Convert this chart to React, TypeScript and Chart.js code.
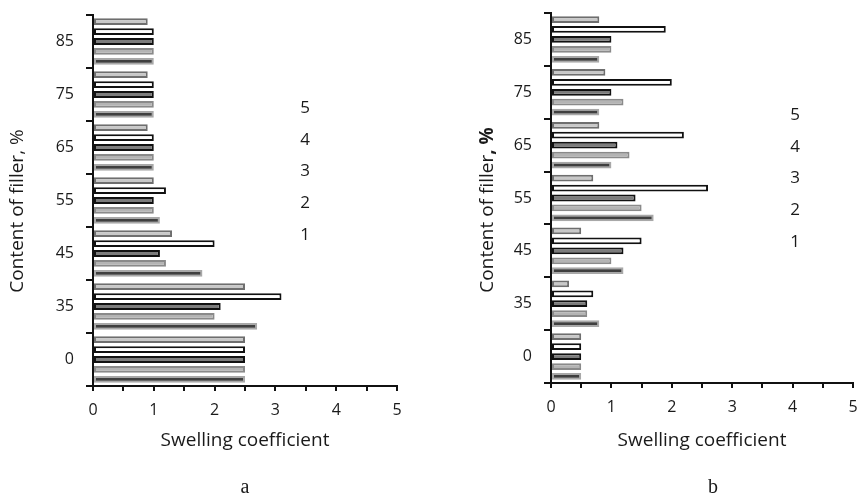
import React, { useEffect, useRef } from 'react';
import { Chart, registerables } from 'chart.js';

Chart.register(...registerables);

// Categories: content of filler, % (bottom to top)
const categories = ['0', '35', '45', '55', '65', '75', '85'];
const seriesNames = ['1', '2', '3', '4', '5'];

// Panel a — swelling coefficient
const a_s1 = [2.5, 2.7, 1.8, 1.1, 1.0, 1.0, 1.0];
const a_s2 = [2.5, 2.0, 1.2, 1.0, 1.0, 1.0, 1.0];
const a_s3 = [2.5, 2.1, 1.1, 1.0, 1.0, 1.0, 1.0];
const a_s4 = [2.5, 3.1, 2.0, 1.2, 1.0, 1.0, 1.0];
const a_s5 = [2.5, 2.5, 1.3, 1.0, 0.9, 0.9, 0.9];

// Panel b — swelling coefficient
const b_s1 = [0.5, 0.8, 1.2, 1.7, 1.0, 0.8, 0.8];
const b_s2 = [0.5, 0.6, 1.0, 1.5, 1.3, 1.2, 1.0];
const b_s3 = [0.5, 0.6, 1.2, 1.4, 1.1, 1.0, 1.0];
const b_s4 = [0.5, 0.7, 1.5, 2.6, 2.2, 2.0, 1.9];
const b_s5 = [0.5, 0.3, 0.5, 0.7, 0.8, 0.9, 0.8];

const xMin = 0;
const xMax = 5;
const xTitle = 'Swelling coefficient';
const yTitleMain = 'Content of filler';
const yTitleSuffix = ', %';

const FONT = '"Open Sans", sans-serif';
const TEXT = '#1a1a1a';
const TICK_SIZE = 16;
const TITLE_SIZE = 19;

const seriesStyles = [
  { bg: '#3f3f3f', border: '#a8a8a8' }, // 1
  { bg: '#b4b4b4', border: '#8a8a8a' }, // 2
  { bg: '#7c7c7c', border: '#111111' }, // 3
  { bg: '#ffffff', border: '#111111' }, // 4
  { bg: '#c8c8c8', border: '#6e6e6e' }, // 5
];

const decorPlugin = {
  id: 'decor',
  afterDraw(chart: any, _args: any, opts: any) {
    const { ctx } = chart;
    ctx.save();
    ctx.fillStyle = TEXT;
    // legend labels (text only), top to bottom 5..1
    ctx.font = `17px ${FONT}`;
    ctx.textAlign = 'center';
    ctx.textBaseline = 'middle';
    chart.data.datasets.forEach((d: any, i: number) => {
      ctx.fillText(d.label, opts.legendX, opts.legendY + i * opts.legendStep);
    });
    // panel letter
    ctx.font = '20px "Liberation Serif", serif';
    ctx.fillText(opts.letter, opts.letterX, opts.letterY);
    // y title (rotated)
    ctx.translate(opts.yTitleX, opts.yTitleY);
    ctx.rotate(-Math.PI / 2);
    const normalFont = `${TITLE_SIZE}px ${FONT}`;
    const boldFont = `bold ${TITLE_SIZE}px ${FONT}`;
    ctx.font = normalFont;
    const w1 = ctx.measureText(yTitleMain).width;
    ctx.font = opts.boldSuffix ? boldFont : normalFont;
    const w2 = ctx.measureText(yTitleSuffix).width;
    const start = -(w1 + w2) / 2;
    ctx.textAlign = 'left';
    ctx.font = normalFont;
    ctx.fillText(yTitleMain, start, 0);
    ctx.font = opts.boldSuffix ? boldFont : normalFont;
    ctx.fillText(yTitleSuffix, start + w1, 0);
    ctx.restore();
  },
};

type PanelProps = {
  series: number[][];
  width: number;
  height: number;
  yScaleWidth: number;
  xScaleHeight: number;
  padTop: number;
  padRight: number;
  decor: any;
};

function Panel({ series, width, height, yScaleWidth, xScaleHeight, padTop, padRight, decor }: PanelProps) {
  const ref = useRef<HTMLCanvasElement | null>(null);
  useEffect(() => {
    if (!ref.current) return;
    const order = [4, 3, 2, 1, 0]; // series 5 on top of each group, series 1 at bottom
    const chart = new Chart(ref.current, {
      type: 'bar',
      data: {
        labels: categories,
        datasets: order.map((i) => ({
          label: seriesNames[i],
          data: series[i],
          backgroundColor: seriesStyles[i].bg,
          borderColor: seriesStyles[i].border,
          borderWidth: 2,
          borderSkipped: false,
          categoryPercentage: 0.94,
          barPercentage: 0.68,
        })),
      },
      options: {
        indexAxis: 'y',
        responsive: false,
        animation: false,
        events: [],
        layout: { padding: { left: 0, right: padRight, top: padTop, bottom: 0 } },
        plugins: {
          legend: { display: false },
          tooltip: { enabled: false },
          decor,
        } as any,
        scales: {
          y: {
            reverse: true,
            grid: { drawOnChartArea: false, color: '#111', lineWidth: 2, tickLength: 7, offset: true },
            border: { display: true, color: '#111', width: 2 },
            ticks: { color: TEXT, font: { family: FONT, size: TICK_SIZE }, padding: 12 },
            afterFit: (s: any) => {
              s.width = yScaleWidth;
              s.paddingTop = 0;
              s.paddingBottom = 0;
            },
          },
          x: {
            min: xMin,
            max: xMax,
            grid: { drawOnChartArea: false, color: '#111', lineWidth: 2, tickLength: 5 },
            border: { display: true, color: '#111', width: 2 },
            ticks: {
              stepSize: 0.5,
              color: TEXT,
              font: { family: FONT, size: TICK_SIZE },
              padding: 10,
              maxRotation: 0,
              autoSkip: false,
              callback: (v: any) => (Number.isInteger(Number(v)) ? String(v) : ''),
            },
            title: {
              display: true,
              text: xTitle,
              color: TEXT,
              font: { family: FONT, size: TITLE_SIZE },
              padding: { top: 0, bottom: 48.6 },
            },
            afterFit: (s: any) => {
              s.height = xScaleHeight;
              s.paddingLeft = 0;
              s.paddingRight = 0;
            },
          },
        },
      },
      plugins: [decorPlugin],
    });
    return () => chart.destroy();
  }, []);
  return <canvas ref={ref} width={width} height={height} style={{ display: 'block' }} />;
}

export default function App() {
  return (
    <div style={{ position: 'absolute', left: 0, top: 0, width: 859, height: 501, background: '#fff' }}>
      <div style={{ position: 'absolute', left: 0, top: 0 }}>
        <Panel
          series={[a_s1, a_s2, a_s3, a_s4, a_s5]}
          width={430}
          height={501}
          yScaleWidth={93}
          xScaleHeight={115}
          padTop={15}
          padRight={33}
          decor={{ legendX: 305, legendY: 108, legendStep: 31.75, letter: 'a', letterX: 245, letterY: 488, yTitleX: 18, yTitleY: 211, boldSuffix: false }}
        />
      </div>
      <div style={{ position: 'absolute', left: 430, top: 0 }}>
        <Panel
          series={[b_s1, b_s2, b_s3, b_s4, b_s5]}
          width={429}
          height={501}
          yScaleWidth={121}
          xScaleHeight={118}
          padTop={13}
          padRight={6}
          decor={{ legendX: 365, legendY: 115, legendStep: 31.75, letter: 'b', letterX: 283, letterY: 488, yTitleX: 58, yTitleY: 210, boldSuffix: true }}
        />
      </div>
    </div>
  );
}
